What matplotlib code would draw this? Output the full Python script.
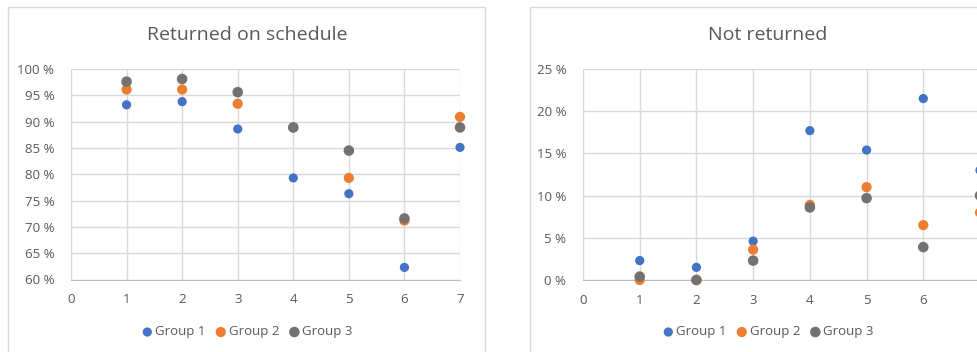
# two Excel-style scatter panels: returned on schedule / not returned
import numpy as np
import matplotlib
matplotlib.use('Agg')
from matplotlib import pyplot as plt
from matplotlib import font_manager
from matplotlib.patches import Rectangle
from matplotlib.ticker import FuncFormatter, MultipleLocator

# ----------- data -----------------------------------------------------------------------
x = [1, 2, 3, 4, 5, 6, 7]
groups = ['Group 1', 'Group 2', 'Group 3']

# returned on schedule (%)
ontime_g1 = [93.2, 93.8, 88.6, 79.3, 76.3, 62.3, 85.1]
ontime_g2 = [96.1, 96.1, 93.4, 88.9, 79.3, 71.2, 90.9]
ontime_g3 = [97.6, 98.1, 95.6, 88.9, 84.5, 71.6, 88.9]

# not returned (%)
notret_g1 = [2.3, 1.5, 4.6, 17.7, 15.4, 21.5, 13.0]
notret_g2 = [0.0, 0.0, 3.6, 8.9, 11.0, 6.5, 8.0]
notret_g3 = [0.4, 0.0, 2.3, 8.6, 9.7, 3.9, 10.0]

# ----------- style ----------------------------------------------------------------------
names = set(f.name for f in font_manager.fontManager.ttflist)
family = [f for f in ['Liberation Sans Narrow', 'Open Sans', 'DejaVu Sans'] if f in names][0]
plt.rcParams['font.family'] = [family, 'DejaVu Sans']

colors = ['#4472C4', '#ED7D31', '#767171']
sizes = [44, 54, 58]
txt = '#595959'
grid = '#D9D9D9'

W, H = 977, 352
fig = plt.figure(figsize=(W/100., H/100.), dpi=100)

def px(x0, y0, x1, y1):
    # pixel box -> figure fraction [left, bottom, width, height]
    return [x0/W, 1-y1/H, (x1-x0)/W, (y1-y0)/H]

def panel(box, title, tcx, series, ymin, ymax, xlabels):
    ax = fig.add_axes(box)
    for vals, c, s, lab in zip(series, colors, sizes, groups):
        ax.scatter(x, vals, s=s, color=c, edgecolors='none', label=lab, zorder=3, clip_on=False)
    ax.set_xlim(0, 7)
    ax.set_ylim(ymin, ymax)
    ax.set_xticks(xlabels)
    ax.yaxis.set_major_locator(MultipleLocator(5))
    ax.yaxis.set_major_formatter(FuncFormatter(lambda v, p: '%d %%' % round(v)))
    ax.grid(True, color=grid, linewidth=1.0, zorder=0)
    ax.set_axisbelow(True)
    for s in ['top', 'right', 'left']:
        ax.spines[s].set_visible(False)
    ax.spines['bottom'].set_color('#BFBFBF')
    ax.tick_params(length=0, colors=txt, labelsize=9.5)
    ax.tick_params(axis='x', pad=10)
    ax.tick_params(axis='y', pad=12)
    fig.text(tcx/W, 1-35/H, title, ha='center', va='center', fontsize=14, color=txt)
    fig.legend(*ax.get_legend_handles_labels(), loc='center', bbox_to_anchor=(tcx/W, 1-332/H),
               ncol=3, frameon=False, fontsize=9.5, handlelength=0.9, handletextpad=0.15,
               columnspacing=0.7, labelcolor=txt)
    return ax

# chart frames
fig.add_artist(Rectangle((8/W, -0.1), 477/W, 1.1-7/H, transform=fig.transFigure,
                         fill=False, edgecolor=grid, linewidth=1.0))
fig.add_artist(Rectangle((530/W, -0.1), 500/W, 1.1-7/H, transform=fig.transFigure,
                         fill=False, edgecolor=grid, linewidth=1.0))

panel(px(71, 69, 460, 279.5), 'Returned on schedule', 247,
      [ontime_g1, ontime_g2, ontime_g3], 60, 100, [0, 1, 2, 3, 4, 5, 6, 7])
# right panel runs past the picture edge, so its "7" label is not shown
panel(px(583, 69, 980, 280), 'Not returned', 768,
      [notret_g1, notret_g2, notret_g3], 0, 25, [0, 1, 2, 3, 4, 5, 6])

plt.savefig('out.png', dpi=100)
plt.close()
